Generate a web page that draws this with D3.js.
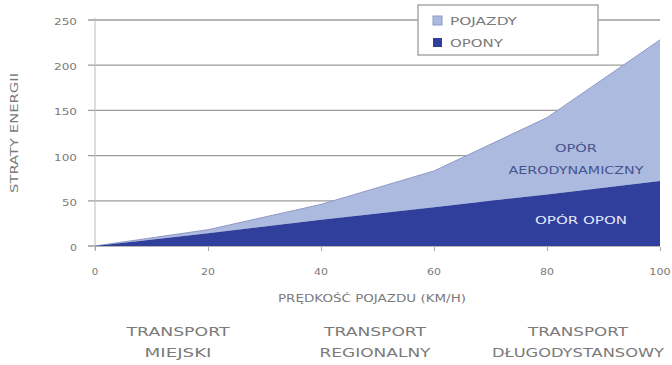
<!DOCTYPE html>
<html>
<head>
<meta charset="utf-8">
<script src="https://cdn.jsdelivr.net/npm/d3@7"></script>
<style>
  html, body { margin: 0; padding: 0; background: #fff; }
  svg { display: block; font-family: "DejaVu Sans", "Liberation Sans", Arial, sans-serif; }
</style>
</head>
<body>
<svg id="chart" width="672" height="365"></svg>
<script>
// Vehicle speed (km/h)
const speeds = [0, 20, 40, 60, 80, 100];
// Tyre rolling resistance losses
const tyreLosses = [0, 14, 29, 43, 57, 72];
// Total vehicle losses (tyres + aerodynamic drag)
const vehicleLosses = [0, 18, 46, 83, 142, 228];
const yTicks = [0, 50, 100, 150, 200, 250];
const xTicks = [0, 20, 40, 60, 80, 100];
const seriesNames = ["POJAZDY", "OPONY"];
const segmentLabels = [
  ["TRANSPORT", "MIEJSKI"],
  ["TRANSPORT", "REGIONALNY"],
  ["TRANSPORT", "DŁUGODYSTANSOWY"]
];

const svg = d3.select("#chart");
const margin = { left: 95, right: 12, top: 20, bottom: 119 };
const W = 672, H = 365;

const x = d3.scaleLinear().domain([0, 100]).range([margin.left, W - margin.right]);
const y = d3.scaleLinear().domain([0, 250]).range([H - margin.bottom, margin.top]);

const light = "#adbadf", dark = "#2f3f9b", grid = "#9c9c9c", txt = "#7a7a7a";

// helper: text stretched to a given width
function label(parent, px, py, str, len, size, fill, anchor = "middle") {
  return parent.append("text")
    .attr("x", px).attr("y", py)
    .attr("text-anchor", anchor)
    .attr("font-size", size).attr("fill", fill)
    .attr("textLength", len).attr("lengthAdjust", "spacingAndGlyphs")
    .text(str);
}

// horizontal grid lines
svg.append("g").selectAll("line").data(yTicks).join("line")
  .attr("x1", margin.left - 7).attr("x2", x(100))
  .attr("y1", d => y(d)).attr("y2", d => y(d))
  .attr("stroke", grid).attr("stroke-width", 1.3);

// y axis labels
const gy = svg.append("g");
yTicks.forEach(d => {
  const s = String(d);
  label(gy, 77, y(d) + 5, s, s.length * 8 - 1, 9.5, txt, "end");
});

// vertical axis line
svg.append("line").attr("x1", x(0)).attr("x2", x(0))
  .attr("y1", y(250) - 2).attr("y2", y(0) + 4)
  .attr("stroke", "#bbb").attr("stroke-width", 1);

const rows = speeds.map((s, i) => ({ s, tyre: tyreLosses[i], total: vehicleLosses[i] }));

// aerodynamic component (area between tyre and total)
svg.append("path").datum(rows)
  .attr("d", d3.area().x(d => x(d.s)).y0(d => y(d.tyre)).y1(d => y(d.total)))
  .attr("fill", light);
svg.append("path").datum(rows)
  .attr("d", d3.line().x(d => x(d.s)).y(d => y(d.total)))
  .attr("fill", "none").attr("stroke", "#8d99c4").attr("stroke-width", 1);

// tyre component
svg.append("path").datum(rows)
  .attr("d", d3.area().x(d => x(d.s)).y0(y(0)).y1(d => y(d.tyre)))
  .attr("fill", dark);

// x axis ticks
const xAxis = d3.axisBottom(x).tickValues(xTicks).tickSize(4).tickFormat("");
const gx = svg.append("g").attr("transform", `translate(0,${y(0) + 1})`).call(xAxis);
gx.select(".domain").remove();
gx.selectAll(".tick line").attr("stroke", "#aaa");
const gxl = svg.append("g");
xTicks.forEach(d => {
  const s = String(d);
  label(gxl, x(d), 275, s, s.length * 7.5 - 1, 9.5, txt);
});

// x axis title
label(svg, 372, 302, "PRĘDKOŚĆ POJAZDU (KM/H)", 188, 10.5, txt);

// y axis title
label(svg.append("g").attr("transform", "translate(18,133) rotate(-90)"),
  0, 0, "STRATY ENERGII", 120, 10.5, txt);

// transport segment labels
const segX = [178, 375, 578];
const segLen = [[103, 67], [102, 111], [100, 172]];
segmentLabels.forEach((lines, i) => {
  lines.forEach((l, j) => label(svg, segX[i], 336 + j * 21, l, segLen[i][j], 12.5, txt));
});

// in-area labels
label(svg, 576, 152, "OPÓR", 42, 10, "#46548e");
label(svg, 576, 174, "AERODYNAMICZNY", 135, 10, "#46548e");
label(svg, 581, 224, "OPÓR OPON", 92, 10, "#e4e8fb");

// legend
const lg = svg.append("g").attr("transform", "translate(418,5)");
lg.append("rect").attr("width", 180).attr("height", 50)
  .attr("fill", "#fff").attr("stroke", "#9a9a9a").attr("stroke-width", 1.3);
[light, dark].forEach((c, i) => {
  lg.append("rect").attr("x", 15).attr("y", 11 + i * 22).attr("width", 9).attr("height", 9)
    .attr("fill", c).attr("stroke", i === 0 ? "#8d99c4" : "none");
});
label(lg, 32, 19.5, seriesNames[0], 67, 10.5, txt, "start");
label(lg, 32, 42, seriesNames[1], 53, 10.5, txt, "start");
</script>
</body>
</html>
